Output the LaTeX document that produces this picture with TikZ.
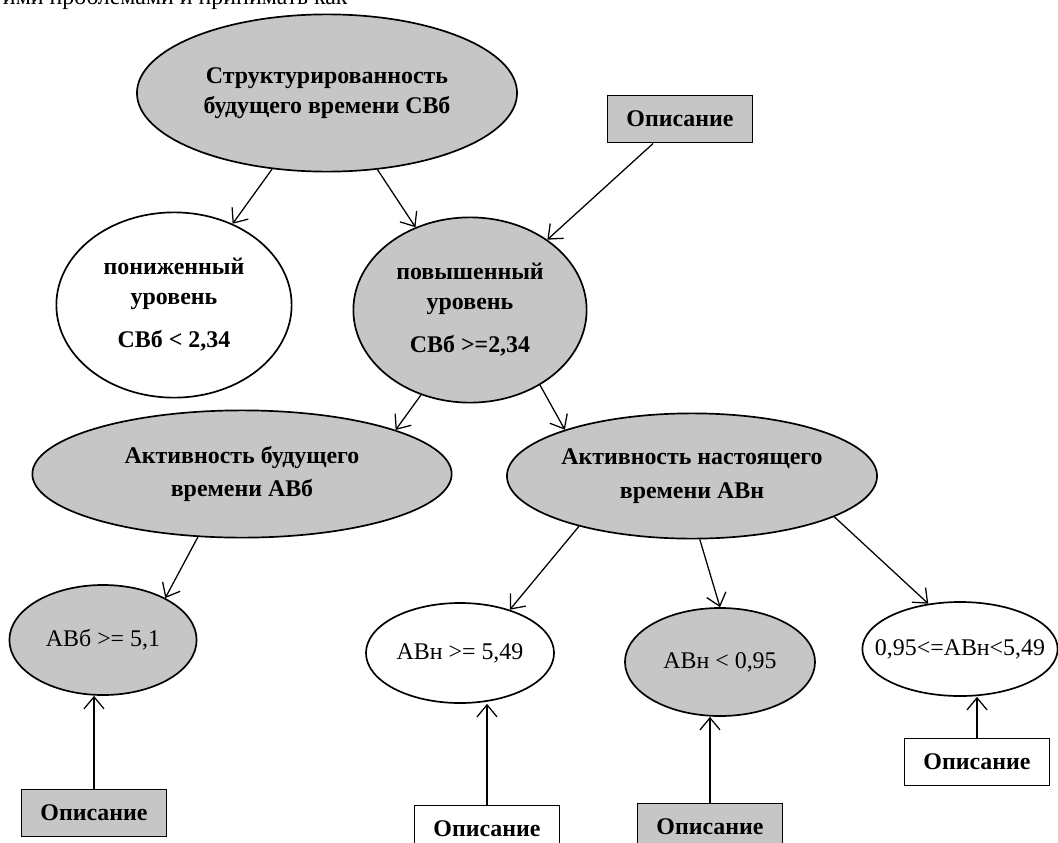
\documentclass[tikz,border=0pt]{standalone}
\usepackage{fontspec}
\setmainfont{Liberation Serif}
\usepackage{tikz}
\usetikzlibrary{arrows.meta,positioning,shapes.geometric}
\definecolor{cshade}{RGB}{198,198,198}

\begin{document}
\begin{tikzpicture}[x=0.025cm, y=-0.025cm,
    oval/.style={ellipse, draw, line width=1.2pt, inner sep=0pt, align=center,
                 font=\fontsize{17}{21}\selectfont},
    bold/.style={font=\fontsize{17}{21}\selectfont\bfseries},
    shaded/.style={fill=cshade},
    descbox/.style={rectangle, draw, line width=1.2pt, minimum width=3.63cm,
                    minimum height=1.18cm, font=\fontsize{17}{21}\selectfont\bfseries},
    link/.style={-{Straight Barb[length=3mm,width=5mm]}, line width=0.9pt}]
  \useasboundingbox (0,0) rectangle (1058,842);

  \node[anchor=base west, font=\fontsize{17}{21}\selectfont] (prev) at (-2,4)
       {ими проблемами и принимать как};

  \node[oval, bold, shaded, minimum width=9.5cm, minimum height=3.93cm] (top) at (327,93)
       {Структурированность\\будущего времени СВб};
  \node[descbox, shaded] (desc1) at (680,119) {Описание};

  \node[oval, bold, minimum width=5.88cm, minimum height=4.63cm] (low) at (174,305)
       {пониженный\\уровень\\[10pt]СВб < 2,34};
  \node[oval, bold, shaded, minimum width=5.83cm, minimum height=4.63cm] (high) at (470,310)
       {повышенный\\уровень\\[10pt]СВб >=2,34};

  \node[oval, bold, shaded, minimum width=10.48cm, minimum height=3.18cm] (avb) at (242,474)
       {Активность будущего\\[3pt]времени АВб};
  \node[oval, bold, shaded, minimum width=9.25cm, minimum height=3.13cm] (avn) at (692,476)
       {Активность настоящего\\[3pt]времени АВн};

  \node[oval, shaded, minimum width=4.68cm, minimum height=2.75cm] (avb51) at (103,640) {АВб >= 5,1};
  \node[oval, minimum width=4.7cm, minimum height=2.5cm] (avn549) at (460,653) {АВн >= 5,49};
  \node[oval, shaded, minimum width=4.75cm, minimum height=2.7cm] (avn095) at (720,662) {АВн < 0,95};
  \node[oval, inner xsep=-4mm, minimum width=4.83cm, minimum height=2.35cm] (avnmid) at (960,649)
       {0,95<=АВн<5,49};

  \node[descbox, shaded] (descA) at (94,813) {Описание};
  \node[descbox] (descB) at (487,829) {Описание};
  \node[descbox, shaded] (descC) at (710,827) {Описание};
  \node[descbox] (descD) at (977,762) {Описание};

  \draw[link] (top) -- (low);
  \draw[link] (top) -- (high);
  \draw[link] (desc1) -- (high);
  \draw[link] (high.240) -- (avb.16);
  \draw[link] (high.313) -- (avn.160);
  \draw[link] (avb.235) -- (avb51.34);
  \draw[link] (avn.204) -- (avn549.41);
  \draw[link] (avn.277) -- (avn095.north);
  \draw[link] (avn.344) -- (avnmid.125);
  \draw[link] (descA.north) -- (descA.north |- avb51.south);
  \draw[link] (descB.north) -- (descB.north |- avn549.south);
  \draw[link] (descC.north) -- (descC.north |- avn095.south);
  \draw[link] (descD.north) -- (descD.north |- avnmid.south);
\end{tikzpicture}
\end{document}
